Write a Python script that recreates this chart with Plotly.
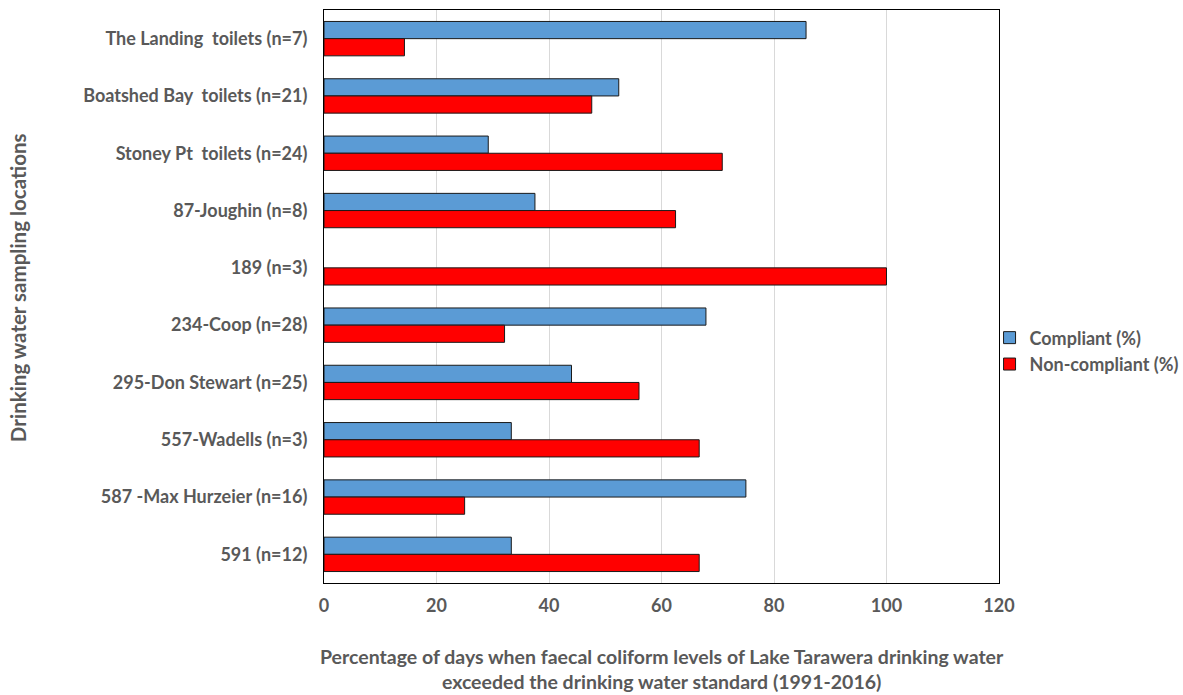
import plotly.graph_objects as go

locations = [
    "The Landing\u00a0 toilets (n=7)",
    "Boatshed Bay\u00a0 toilets (n=21)",
    "Stoney Pt\u00a0 toilets (n=24)",
    "87-Joughin (n=8)",
    "189 (n=3)",
    "234-Coop (n=28)",
    "295-Don Stewart (n=25)",
    "557-Wadells (n=3)",
    "587 -Max Hurzeier (n=16)",
    "591 (n=12)",
]
compliant = [85.7, 52.4, 29.2, 37.5, None, 67.9, 44.0, 33.3, 75.0, 33.3]
non_compliant = [14.3, 47.6, 70.8, 62.5, 100, 32.1, 56.0, 66.7, 25.0, 66.7]
x_ticks = [0, 20, 40, 60, 80, 100, 120]

grey = "#595959"
font_family = "Lato, 'Open Sans', sans-serif"

fig = go.Figure()
fig.add_trace(go.Bar(
    y=locations, x=compliant, orientation="h", name="Compliant (%)",
    marker=dict(color="#5B9BD5", line=dict(color="#1a1a1a", width=1)),
))
fig.add_trace(go.Bar(
    y=locations, x=non_compliant, orientation="h", name="Non-compliant (%)",
    marker=dict(color="#FF0000", line=dict(color="#1a1a1a", width=1)),
))

fig.update_layout(
    width=1183, height=695,
    margin=dict(l=324, r=184, t=10, b=112, autoexpand=False),
    plot_bgcolor="white", paper_bgcolor="white",
    barmode="group", bargap=0.4, bargroupgap=0,
    font=dict(family=font_family, color=grey, size=18),
    showlegend=True,
    legend=dict(
        x=0.986, y=0.405, xanchor="left", yanchor="middle",
        traceorder="normal", itemwidth=30,
        font=dict(size=18, color=grey, weight="bold"),
        bgcolor="rgba(0,0,0,0)",
    ),
    xaxis=dict(
        range=[0, 120], tickvals=x_ticks, showgrid=True, gridcolor="#d9d9d9",
        gridwidth=1, showline=True, linecolor="black", linewidth=1, mirror=True,
        tickfont=dict(size=18, color=grey, weight="bold"), ticks="",
        ticklabelstandoff=6, zeroline=False,
    ),
    yaxis=dict(
        categoryorder="array", categoryarray=locations, autorange="reversed",
        showline=True, linecolor="black", linewidth=1, mirror=True,
        tickfont=dict(size=18, color=grey, weight="bold"), ticks="",
        ticklabelstandoff=12,
    ),
    annotations=[
        dict(
            text="Percentage of days when faecal coliform levels of Lake Tarawera drinking water<br>exceeded the drinking water standard (1991-2016)",
            xref="paper", yref="paper", x=0.5, y=-0.104, xanchor="center", yanchor="top",
            showarrow=False, align="center",
            font=dict(size=19.5, color=grey, weight="bold", family=font_family),
        ),
        dict(
            text="Drinking water sampling locations",
            xref="paper", yref="paper", x=-0.453, y=0.515, xanchor="center", yanchor="middle",
            showarrow=False, textangle=-90,
            font=dict(size=20.5, color=grey, weight="bold", family=font_family),
        ),
    ],
)

fig.write_html("out.html")
